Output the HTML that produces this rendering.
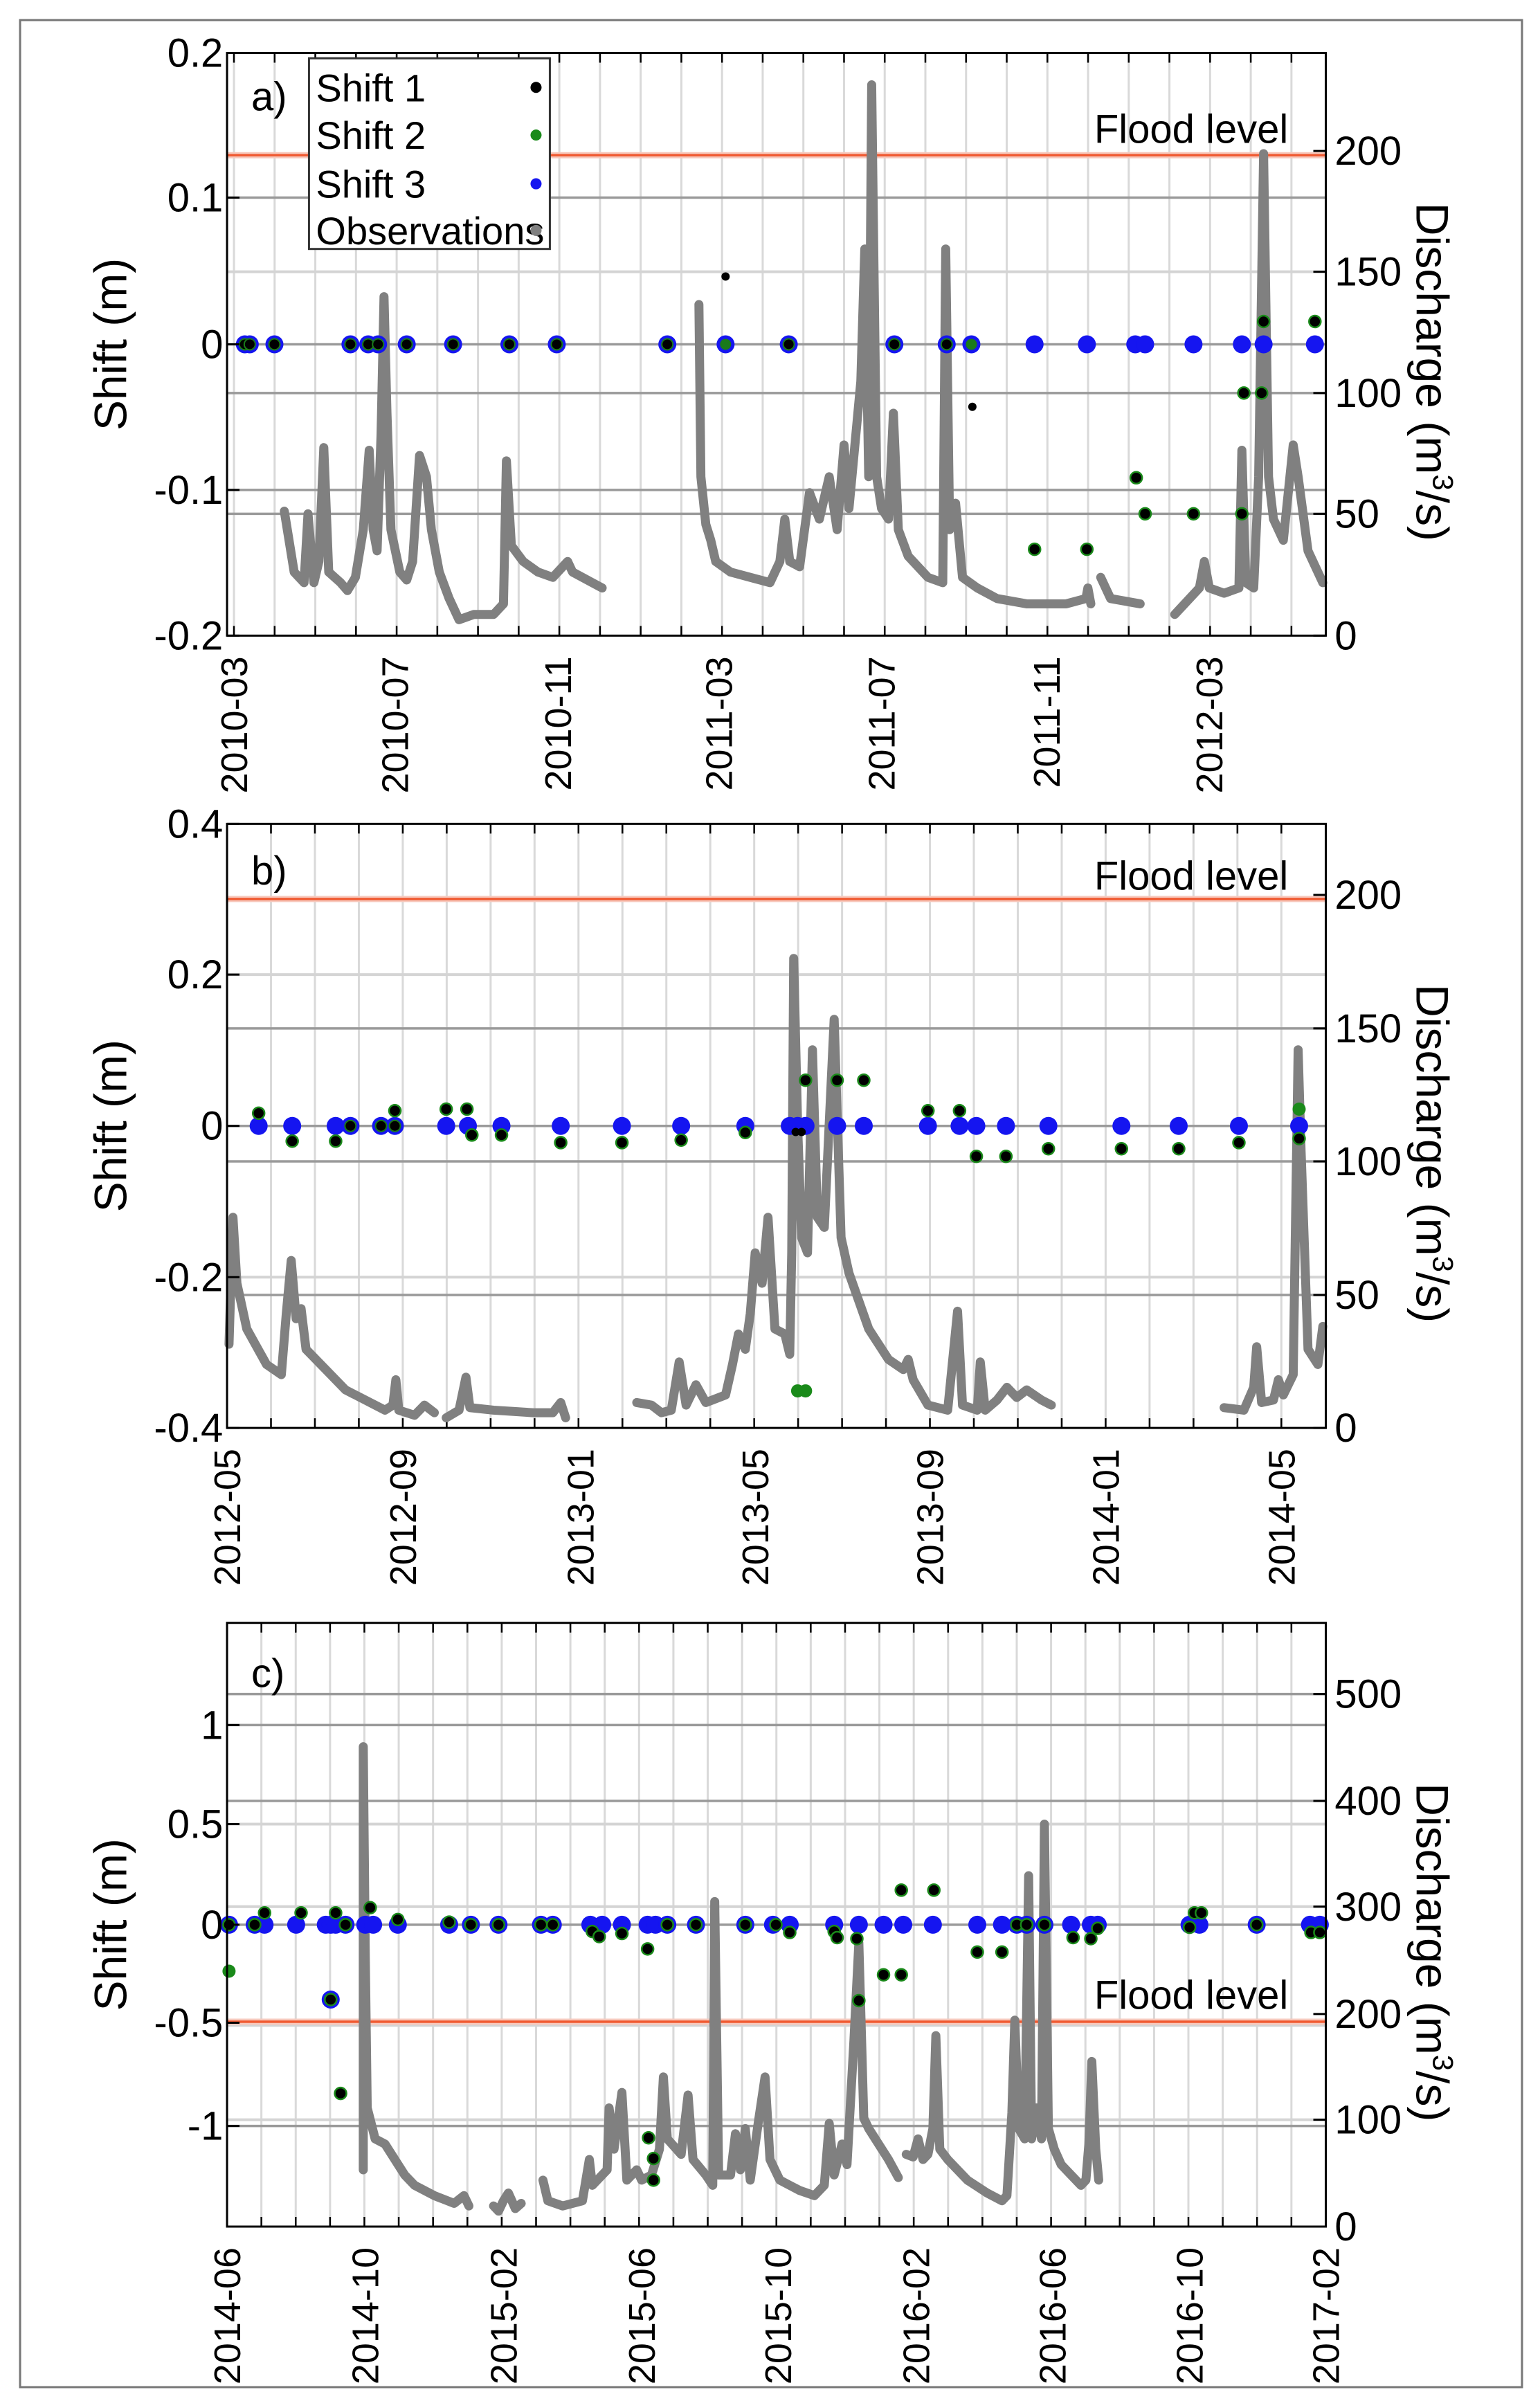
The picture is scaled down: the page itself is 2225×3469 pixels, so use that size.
<!DOCTYPE html>
<html><head><meta charset="utf-8"><style>
html,body{margin:0;padding:0;background:#fff}
svg{display:block}
text{font-family:"Liberation Sans Narrow","Liberation Sans",sans-serif;fill:#000}
.xl{font-family:"Liberation Sans",sans-serif}
</style></head><body>
<svg id="s" xmlns="http://www.w3.org/2000/svg" width="2225" height="3469" viewBox="0 0 2225 3469">
<rect x="0" y="0" width="2225" height="3469" fill="#fff"/>
<rect x="29" y="29" width="2170" height="3420" fill="none" stroke="#777" stroke-width="3"/>
</svg>
<script>
const S=document.getElementById('s');const NS='http://www.w3.org/2000/svg';
function el(t,a,txt){const e=document.createElementNS(NS,t);for(const k in a)e.setAttribute(k,a[k]);if(txt!==undefined)e.textContent=txt;S.appendChild(e);return e;}
const X=zx=>zx*2225/1560;
const panels=[
{top:0,h:1200,y0:100,y1:1200,
 lt:[["0.2",100],["0.1",373],["0",650],["-0.1",925],["-0.2",1200]],
 rt:[["200",285],["150",513],["100",742],["50",970],["0",1200]],
 dark:[373,650,742,925,970],light:[513],flood:293,ftext:270,lab:"a)",labpos:[260,185],
 m0:237,step:41.2,xl:[["2010-03",237],["2010-07",400],["2010-11",565],["2011-03",728],["2011-07",893],["2011-11",1060],["2012-03",1225]],
 series:[
 [[288,965],[298,1080],[308,1100],[312,970],[318,1100],[323,1060],[328,845],[333,1080],[345,1100],[352,1115],[360,1090],[368,1000],[374,850],[378,1000],[382,1040],[386,820],[389,560],[392,780],[396,1000],[405,1080],[412,1095],[418,1060],[425,860],[432,900],[437,1000],[445,1080],[455,1130],[465,1170],[480,1160],[500,1160],[510,1140],[513,870],[518,1030],[530,1060],[545,1080],[560,1090],[575,1060],[580,1080],[600,1100],[610,1110]],
 [[708,575],[710,900],[715,990],[720,1020],[725,1060],[740,1080],[760,1090],[780,1100],[790,1060],[795,980],[800,1060],[810,1070],[820,930],[830,980],[840,900],[848,1000],[855,840],[860,960],[868,800],[872,720],[876,470],[880,900],[883,160],[888,900],[893,960],[900,980],[905,780],[910,1000],[920,1050],[940,1090],[955,1100],[958,470],[962,1000],[968,950],[975,1090],[990,1110],[1010,1130],[1040,1140],[1080,1140],[1100,1130],[1102,1110],[1105,1140]],
 [[1115,1090],[1125,1130],[1155,1140]],
 [[1190,1160],[1200,1140],[1215,1110],[1220,1060],[1225,1110],[1240,1120],[1255,1110],[1258,850],[1262,1100],[1270,1110],[1275,900],[1280,290],[1285,900],[1290,980],[1300,1020],[1310,840],[1315,900],[1325,1040],[1340,1100]]],
 blue:[248,253,278,355,373,383,412,459,516,564,676,735,799,906,959,984,1048,1101,1150,1160,1209,1258,1280,1332],
 bz:[248,253,278,355,373,383,412,459,516,564,676,799,906,959],
 gz:[735,984],
 gb:[[1280,607],[1332,607],[1260,742],[1278,742],[1151,902],[1160,970],[1209,970],[1258,970],[1048,1037],[1101,1037]],
 sb:[[735,522],[985,768]],gp:[],zero:650},
{top:1150,h:1150,y0:55,y1:1245,
 lt:[["0.4",55],["0.2",352],["0",650],["-0.2",948],["-0.4",1245]],
 rt:[["200",195],["150",458],["100",720],["50",983],["0",1245]],
 dark:[458,650,720,983],light:[352,948],flood:203,ftext:185,lab:"b)",labpos:[260,150],
 m0:230,step:44.5,xl:[["2012-05",230],["2012-09",408],["2013-01",588],["2013-05",765],["2013-09",942],["2014-01",1120],["2014-05",1298]],
 series:[
 [[232,1080],[236,830],[240,960],[250,1050],[270,1120],[285,1140],[290,1020],[295,915],[300,1030],[305,1010],[310,1090],[330,1130],[350,1170],[370,1190],[390,1210],[398,1200],[401,1150],[404,1210],[420,1220],[430,1200],[440,1215]],
 [[452,1225],[465,1210],[472,1145],[476,1205],[500,1210],[540,1215],[560,1215],[568,1195],[573,1225]],
 [[645,1195],[660,1200],[670,1215],[680,1210],[688,1115],[695,1200],[705,1160],[715,1195],[735,1180],[742,1120],[748,1060],[755,1090],[760,1020],[765,900],[772,960],[778,830],[785,1050],[795,1060],[800,1100],[802,900],[804,320],[808,650],[812,870],[818,900],[823,500],[828,830],[835,850],[845,440],[852,870],[860,940],[880,1050],[900,1110],[915,1130],[920,1110],[925,1150],[940,1200],[960,1210],[970,1015],[975,1200],[990,1210],[993,1115],[998,1210],[1010,1190],[1020,1165],[1030,1185],[1040,1170],[1055,1190],[1065,1200]],
 [[1240,1205],[1260,1210],[1270,1165],[1273,1085],[1278,1195],[1290,1190],[1295,1150],[1300,1180],[1310,1140],[1315,500],[1318,700],[1325,1090],[1335,1120],[1340,1045]]],
 blue:[262,296,340,355,386,400,452,474,508,568,630,690,755,800,808,816,848,875,940,972,989,1019,1062,1136,1194,1255,1316],
 bz:[355,386,400],gz:[],
 gb:[[262,625],[296,680],[340,680],[400,620],[452,617],[473,617],[478,668],[508,668],[568,683],[630,683],[690,678],[755,663],[816,560],[848,560],[875,560],[940,620],[972,620],[989,710],[1019,710],[1062,695],[1136,695],[1194,695],[1255,683],[1316,675]],
 sb:[[806,662],[812,662]],gp:[[808,1172],[816,1172],[1316,617]],zero:650},
{top:2300,h:1169,y0:60,y1:1230,
 lt:[["1",258],["0.5",450],["0",645],["-0.5",835],["-1",1035]],
 rt:[["500",198],["400",405],["300",610],["200",818],["100",1023],["0",1230]],
 dark:[198,258,405,645,1035],light:[450,610,1023,840],flood:833,ftext:808,lab:"c)",labpos:[265,160],
 m0:230,step:34.78,xl:[["2014-06",230],["2014-10",370],["2015-02",510],["2015-06",650],["2015-10",788],["2016-02",928],["2016-06",1066],["2016-10",1205],["2017-02",1343]],
 series:[
 [[368,1120],[368,300],[370,700],[372,1000],[380,1060],[390,1070],[400,1100],[410,1130],[420,1150],[440,1170],[460,1185],[470,1170],[475,1190]],
 [[500,1190],[505,1200],[510,1180],[515,1165],[522,1195],[528,1185]],
 [[550,1140],[555,1180],[570,1190],[590,1180],[597,1100],[600,1150],[615,1120],[617,1000],[622,1080],[630,970],[635,1140],[645,1120],[650,1140],[660,1130],[668,1080],[672,940],[676,1060],[690,1090],[697,975],[702,1100],[715,1130],[722,1150],[724,600],[728,1130],[740,1130],[745,1050],[750,1120],[755,1040],[760,1140],[768,1030],[775,940],[780,1100],[790,1140],[810,1160],[825,1170],[835,1150],[840,1030],[845,1130],[853,1070],[858,1110],[865,870],[870,680],[875,1020],[880,1040],[890,1070],[900,1100],[910,1135]],
 [[918,1090],[925,1095],[930,1060],[935,1100],[940,1090],[945,1040],[948,860],[952,1080],[960,1100],[980,1140],[1000,1165],[1015,1180],[1020,1170],[1025,1010],[1028,830],[1032,1040],[1038,1060],[1042,550],[1045,1060],[1050,1000],[1055,1060],[1058,450],[1062,1040],[1068,1080],[1075,1110],[1085,1130],[1095,1150],[1100,1140],[1103,1070],[1106,910],[1110,1080],[1113,1140]]],
 blue:[232,258,268,300,330,335,340,350,370,378,403,455,477,505,548,560,598,610,630,656,664,676,705,755,783,800,845,870,895,915,945,990,1015,1030,1040,1058,1085,1105,1112,1205,1215,1273,1327,1337],
 bz:[],gz:[],
 gb:[[232,645],[258,645],[268,622],[305,622],[340,622],[350,645],[375,612],[403,635],[455,640],[477,645],[505,645],[548,645],[560,645],[600,658],[607,668],[630,662],[656,692],[676,645],[705,645],[755,645],[786,645],[800,660],[845,658],[848,670],[868,672],[913,578],[946,578],[895,742],[913,742],[870,792],[990,698],[1015,698],[1030,645],[1040,645],[1058,645],[1087,670],[1105,672],[1112,652],[1205,650],[1210,622],[1217,622],[1273,645],[1328,660],[1337,660],[345,972],[657,1058],[662,1098],[662,1140],[335,790]],
 sb:[],gp:[[232,735]],zero:645,extraBlue:[[335,790]]}
];
const L=X(230),R=X(1343);
panels.forEach(p=>{
 const Y=zy=>p.top+zy*p.h/1568;
 const T=Y(p.y0),B=Y(p.y1);
 for(let k=-2;k<40;k++){const x=X(p.m0+k*p.step);if(x<L+2||x>R-2)continue;
  el('line',{x1:x,y1:T,x2:x,y2:B,stroke:'#d9d9d9','stroke-width':3});
  el('line',{x1:x,y1:B,x2:x,y2:B-14,stroke:'#000','stroke-width':2.5});
  el('line',{x1:x,y1:T,x2:x,y2:T+14,stroke:'#000','stroke-width':2.5});}
 p.light.forEach(y=>el('line',{x1:L,y1:Y(y),x2:R,y2:Y(y),stroke:'#d4d4d4','stroke-width':4}));
 p.dark.forEach(y=>el('line',{x1:L,y1:Y(y),x2:R,y2:Y(y),stroke:'#9a9a9a','stroke-width':3.5}));
 el('line',{x1:L,y1:Y(p.flood),x2:R,y2:Y(p.flood),stroke:'#f7c9bd','stroke-width':9});
 el('line',{x1:L,y1:Y(p.flood),x2:R,y2:Y(p.flood),stroke:'#f05a32','stroke-width':3.5});
 el('text',{x:X(1305),y:Y(p.ftext),'font-size':58,'text-anchor':'end'},'Flood level');
 p.series.forEach(s=>el('polyline',{points:s.map(q=>X(q[0])+','+Y(q[1])).join(' '),fill:'none',stroke:'#808080','stroke-width':13,'stroke-linejoin':'round','stroke-linecap':'round'}));
 p.blue.forEach(x=>el('circle',{cx:X(x),cy:Y(p.zero),r:13,fill:'#1515f0'}));
 (p.extraBlue||[]).forEach(q=>el('circle',{cx:X(q[0]),cy:Y(q[1]),r:13,fill:'#1515f0'}));
 p.bz.forEach(x=>el('circle',{cx:X(x),cy:Y(p.zero),r:8,fill:'#000',stroke:'#1a7a1a','stroke-width':2}));
 p.gz.forEach(x=>el('circle',{cx:X(x),cy:Y(p.zero),r:8,fill:'#1a7a1a'}));
 p.gb.forEach(q=>el('circle',{cx:X(q[0]),cy:Y(q[1]),r:8.5,fill:'#000',stroke:'#1a8a1a','stroke-width':2.5}));
 p.sb.forEach(q=>el('circle',{cx:X(q[0]),cy:Y(q[1]),r:6,fill:'#000'}));
 p.gp.forEach(q=>el('circle',{cx:X(q[0]),cy:Y(q[1]),r:9.5,fill:'#1a8a1a'}));
 el('rect',{x:L,y:T,width:R-L,height:B-T,fill:'none',stroke:'#000','stroke-width':3});
 p.lt.forEach(t=>{el('line',{x1:L,y1:Y(t[1]),x2:L+18,y2:Y(t[1]),stroke:'#000','stroke-width':3});
  el('text',{x:X(226),y:Y(t[1])+20,'font-size':58,'text-anchor':'end'},t[0]);});
 p.rt.forEach(t=>{el('line',{x1:R,y1:Y(t[1]),x2:R-18,y2:Y(t[1]),stroke:'#000','stroke-width':3});
  el('text',{x:X(1352),y:Y(t[1])+20,'font-size':58},t[0]);});
 el('text',{x:L+35,y:Y(p.labpos[1])+18,'font-size':58},p.lab);
 p.xl.forEach(t=>{const x=X(t[1]),y=B+30;
  el('text',{x:0,y:0,'font-size':54,'text-anchor':'end',class:'xl',transform:`translate(${x+19},${y}) rotate(-90)`},t[0]);});
 const cy=(T+B)/2;
 el('text',{x:0,y:0,'font-size':66,'text-anchor':'middle',class:'xl',transform:`translate(${X(128)},${cy}) rotate(-90)`},'Shift (m)');
 const dt=el('text',{x:0,y:0,'font-size':66,'text-anchor':'middle',class:'xl',transform:`translate(${X(1435)},${cy+40}) rotate(90)`},'');
 dt.innerHTML='Discharge (m<tspan dy="-24" font-size="42">3</tspan><tspan dy="24">/s)</tspan>';
});
(function(){const Y=zy=>zy*1200/1568;
 el('rect',{x:X(313),y:Y(110),width:X(557)-X(313),height:Y(470)-Y(110),fill:'#fff',stroke:'#333','stroke-width':3});
 const items=[['Shift 1',165,'#000'],['Shift 2',255,'#1a8a1a'],['Shift 3',347,'#1515f0'],['Observations',435,'#808080']];
 items.forEach(it=>{el('text',{x:X(320),y:Y(it[1])+20,'font-size':56},it[0]);
  el('circle',{cx:X(543),cy:Y(it[1]),r:8,fill:it[2]});});
})();
</script>
</body></html>
